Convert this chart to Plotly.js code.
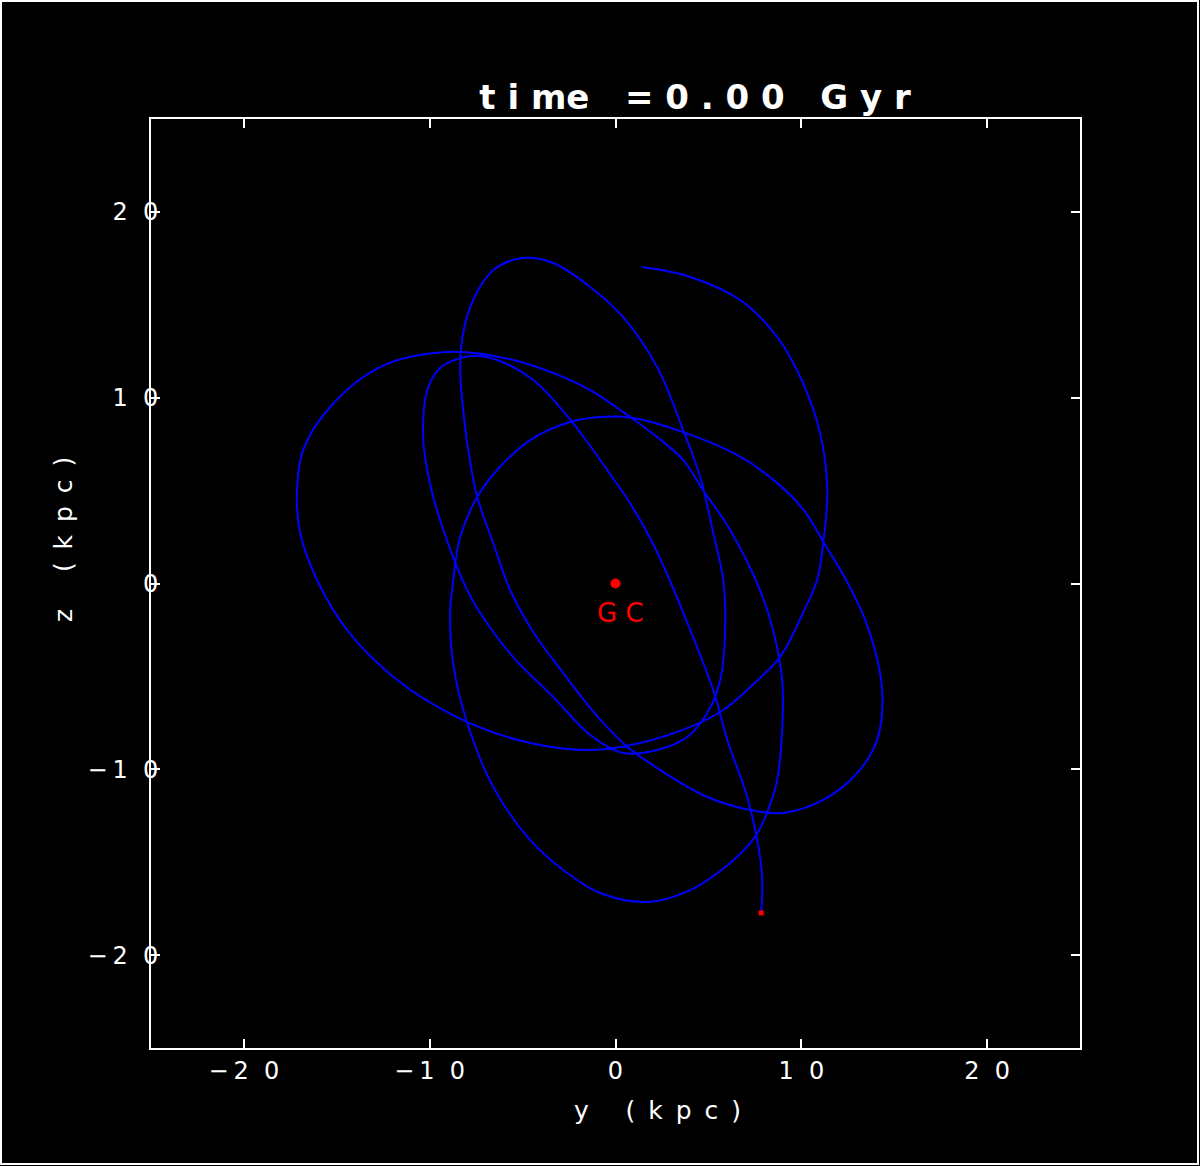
<!DOCTYPE html>
<html>
<head>
<meta charset="utf-8">
<script src="https://cdn.plot.ly/plotly-3.0.1.min.js"></script>
<style>html,body{margin:0;padding:0;background:#000;}#chart{width:1200px;height:1166px;}</style>
</head>
<body>
<div id="chart"></div>
<script>
// Orbit projected on the y-z plane (kpc)
const orbitY = [7.84,7.90,7.63,7.09,6.02,5.26,4.02,2.96,1.92,0.84,-0.29,-1.36,-2.60,-4.43,-6.37,-7.82,-9.44,-10.13,-10.35,-10.30,-9.81,-8.74,-7.98,-7.28,-5.51,-3.35,-1.36,0.41,2.24,3.86,4.94,5.64,5.90,5.80,5.26,4.56,3.64,2.24,0.41,-1.36,-3.35,-4.97,-6.58,-7.66,-8.20,-8.36,-8.25,-7.98,-7.44,-6.58,-5.67,-4.43,-2.81,-1.09,0.52,2.41,4.94,7.25,9.02,11.18,13.01,14.08,14.35,13.54,12.47,11.29,10.05,8.43,6.55,3.64,0.95,-0.82,-2.44,-4.59,-6.37,-7.44,-8.36,-8.79,-8.90,-8.74,-7.98,-6.58,-4.59,-2.81,-0.82,1.71,4.02,6.17,7.51,8.15,8.70,8.97,8.97,8.48,7.78,6.17,4.71,3.64,2.24,0.79,-1.36,-2.81,-5.51,-9.06,-12.67,-15.36,-16.81,-17.14,-16.97,-16.06,-14.45,-11.75,-8.20,-4.59,-1.36,1.33,4.02,5.80,7.25,8.85,10.09,10.85,11.18,11.40,11.01,10.09,8.70,6.71,4.02,1.43];
const orbitZ = [-17.73,-15.96,-13.81,-11.49,-8.42,-5.73,-2.50,0.08,2.34,4.23,5.89,7.40,9.02,10.95,12.03,12.24,11.60,10.41,8.80,7.19,4.66,1.43,-0.35,-1.59,-3.96,-6.11,-8.15,-9.12,-8.96,-8.26,-6.97,-5.19,-2.50,0.19,2.72,5.73,8.26,11.65,14.34,15.96,17.25,17.52,16.87,15.26,13.48,11.49,9.88,7.56,4.66,2.18,-0.35,-2.61,-4.82,-7.02,-8.69,-10.04,-11.49,-12.19,-12.35,-11.65,-10.20,-8.42,-5.73,-2.23,0.08,2.07,4.06,5.63,6.92,8.15,8.91,8.96,8.69,7.72,6.11,4.66,2.50,-0.35,-1.59,-4.28,-7.51,-10.95,-13.81,-15.42,-16.66,-17.14,-16.50,-15.04,-13.64,-12.35,-10.58,-7.88,-5.19,-2.50,-0.35,2.88,5.03,6.65,7.88,8.96,10.41,11.11,12.03,12.46,11.65,9.50,7.19,5.03,2.72,0.19,-2.50,-5.19,-7.35,-8.58,-8.96,-8.58,-7.72,-6.81,-5.57,-3.96,-1.59,0.19,2.18,5.03,8.10,10.79,13.27,15.26,16.50,17.03];
const gcPos = {y: [0], z: [0]};
const gcLabel = "G\u00a0C";
const startPos = {y: [7.84], z: [-17.73]};
const tickVals = [-20, -10, 0, 10, 20];
const tickText = ["\u2212\u20092\u00a0\u00a00", "\u2212\u20091\u00a0\u00a00", "0", "1\u00a0\u00a00", "2\u00a0\u00a00"];
const titleText = "t\u00a0i\u00a0me\u00a0\u00a0\u00a0=\u00a00\u00a0.\u00a00\u00a00\u00a0\u00a0\u00a0G\u00a0y\u00a0r";
const xTitle = "y\u00a0\u00a0\u00a0\u00a0\u2009(\u00a0\u2009k\u00a0\u2009p\u00a0\u2009c\u00a0\u2009)";
const yTitle = "z\u00a0\u00a0\u00a0\u00a0\u2009(\u00a0\u2009k\u00a0\u2009p\u00a0\u2009c\u00a0\u2009)";

const fontFam = "DejaVu Sans, Liberation Sans, sans-serif";

const traces = [
  {x: orbitY, y: orbitZ, type: "scatter", mode: "lines",
   line: {color: "#0000ff", width: 2, shape: "spline", smoothing: 1.0},
   hoverinfo: "skip", showlegend: false},
  {x: gcPos.y, y: gcPos.z, type: "scatter", mode: "markers",
   marker: {color: "#ff0000", size: 10, symbol: "circle"},
   showlegend: false},
  {x: startPos.y, y: startPos.z, type: "scatter", mode: "markers",
   marker: {color: "#ff0000", size: 5, symbol: "square"},
   showlegend: false}
];

const plotW = 929, plotH = 929, mL = 151, mT = 119;
const px2x = p => (p - mL) / plotW;
const px2y = p => (mT + plotH - p) / plotH;

const axisCommon = {
  range: [-25, 25], tickvals: tickVals, ticktext: tickText,
  ticks: "inside", ticklen: 9, tickwidth: 1.5, tickcolor: "#ffffff",
  showline: true, linecolor: "#ffffff", linewidth: 2, mirror: "ticks",
  showgrid: false, zeroline: false,
  tickfont: {color: "#ffffff", size: 24, family: fontFam}
};

const layout = {
  width: 1200, height: 1166,
  paper_bgcolor: "#000000", plot_bgcolor: "#000000",
  margin: {l: mL, r: 1200 - mL - plotW, t: mT, b: 1166 - mT - plotH},
  title: {text: titleText, x: px2x(695), xref: "paper", xanchor: "center", y: 0.917, yanchor: "middle",
          font: {color: "#ffffff", size: 34, family: "DejaVu Sans", weight: "bold"}},
  xaxis: Object.assign({}, axisCommon, {}),
  yaxis: Object.assign({}, axisCommon, {scaleanchor: "x", scaleratio: 1, ticklabelstandoff: -14}),
  annotations: [
    {x: 0, y: 0, xref: "x", yref: "y", text: gcLabel, showarrow: false,
     xshift: 5, yshift: -29, font: {color: "#ff0000", size: 26, family: fontFam}},
    {x: px2x(657), y: px2y(1110), xref: "paper", yref: "paper", text: xTitle, showarrow: false,
     xanchor: "center", yanchor: "middle", font: {color: "#ffffff", size: 25, family: fontFam}},
    {x: px2x(63), y: px2y(540), xref: "paper", yref: "paper", text: yTitle, showarrow: false,
     textangle: -90, xanchor: "center", yanchor: "middle", font: {color: "#ffffff", size: 25, family: fontFam}}
  ],
  shapes: [{type: "rect", xref: "paper", yref: "paper",
            x0: px2x(1), x1: px2x(1198), y0: px2y(1164), y1: px2y(1),
            line: {color: "#ffffff", width: 2}, fillcolor: "rgba(0,0,0,0)", layer: "below"}]
};

Plotly.newPlot("chart", traces, layout, {displayModeBar: false, responsive: false});
</script>
</body>
</html>
